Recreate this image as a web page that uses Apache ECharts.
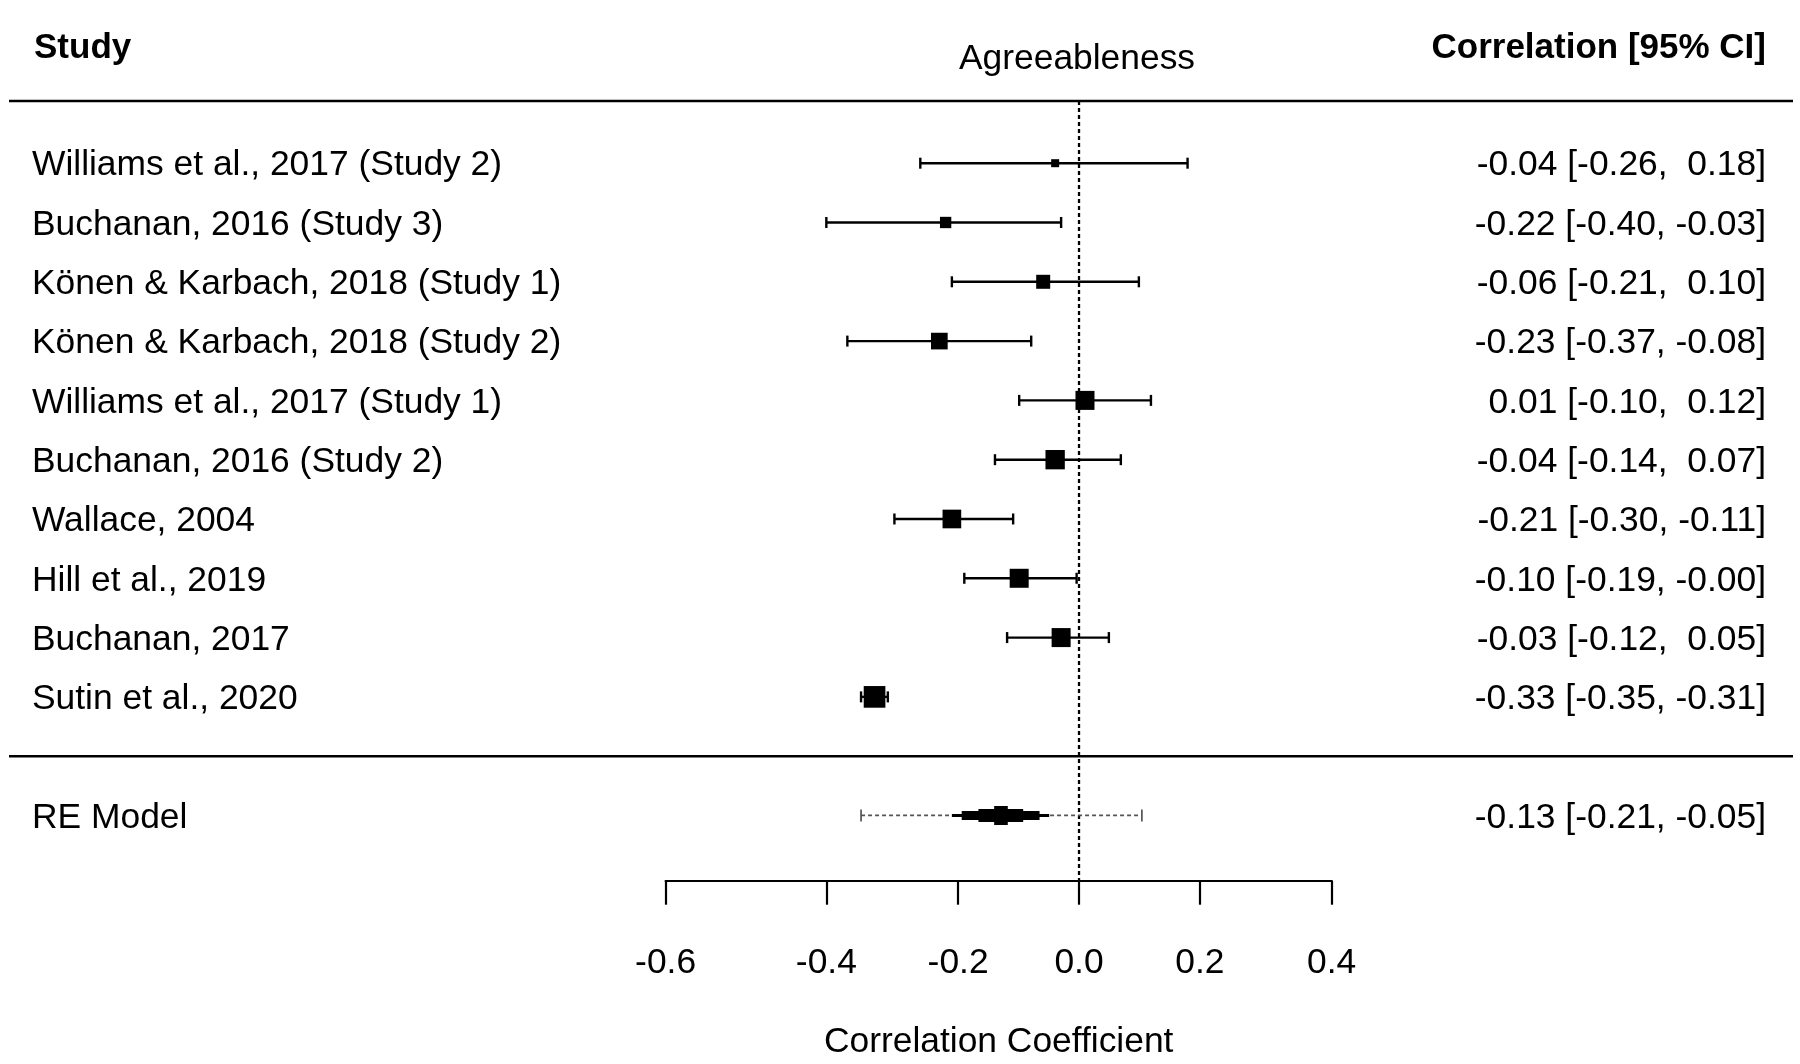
<!DOCTYPE html>
<html><head><meta charset="utf-8">
<script src="https://cdn.jsdelivr.net/npm/echarts@6/dist/echarts.min.js"></script>
<style>html,body{margin:0;padding:0;background:#fff}#c{width:1800px;height:1064px}</style>
</head><body><div id="c"></div>
<script>
// ---- data ----
const studies = [
  'Williams et al., 2017 (Study 2)',
  'Buchanan, 2016 (Study 3)',
  'Könen & Karbach, 2018 (Study 1)',
  'Könen & Karbach, 2018 (Study 2)',
  'Williams et al., 2017 (Study 1)',
  'Buchanan, 2016 (Study 2)',
  'Wallace, 2004',
  'Hill et al., 2019',
  'Buchanan, 2017',
  'Sutin et al., 2020'
];
const estimates = [-0.04, -0.22, -0.06, -0.23, 0.01, -0.04, -0.21, -0.10, -0.03, -0.33];
const ciLower   = [-0.26, -0.40, -0.21, -0.37, -0.10, -0.14, -0.30, -0.19, -0.12, -0.35];
const ciUpper   = [0.18, -0.03, 0.10, -0.08, 0.12, 0.07, -0.11, -0.004, 0.05, -0.31];
const weights   = [4.8, 6.8, 8.4, 10.0, 11.4, 11.6, 11.2, 11.4, 11.4, 13.0];
const reLabel = 'RE Model';
const reEstimate = [-0.13, -0.21, -0.05];   // estimate, lower, upper
const rePrediction = [-0.35, 0.105];         // prediction interval
const tickLabels = [-0.6, -0.4, -0.2, 0.0, 0.2, 0.4];
const panelTitle = 'Agreeableness';
const axisTitle = 'Correlation Coefficient';

// ---- helpers ----
const FONT = '"Liberation Sans", Arial, Helvetica, sans-serif';
const FS = 35.4;
const FSH = 35;
const TY = 2.5; // text vertical nudge
const z = r => Math.atanh(r);
const fmt = v => (v < 0 || Object.is(v, -0)) ? '-' + Math.abs(v).toFixed(2) : ' ' + v.toFixed(2);
const ciText = (e, l, h) => fmt(e) + ' [' + fmt(l) + ', ' + fmt(h) + ']';
const LEFT_X = 32, RIGHT_X = 1766, RULE_L = 9, RULE_R = 1793;

const chart = echarts.init(document.getElementById('c'), null, {renderer: 'canvas'});

const studyData = studies.map((s, i) => [z(estimates[i]), z(ciLower[i]), z(ciUpper[i]), i + 1, weights[i]]);

const option = {
  backgroundColor: '#fff',
  animation: false,
  grid: {left: 665.6, right: 468.3, top: 103.9, bottom: 183.3, outerBoundsMode: 'none', containLabel: false},
  xAxis: {
    type: 'value', min: z(tickLabels[0]), max: z(tickLabels[tickLabels.length - 1]),
    axisLine: {show: true, onZero: false, lineStyle: {color: '#000', width: 2.2}},
    axisTick: {show: true, customValues: tickLabels.map(z), length: 24, lineStyle: {color: '#000', width: 2.2}},
    axisLabel: {show: true, customValues: tickLabels.map(z), formatter: v => Math.tanh(v).toFixed(1),
      margin: 65, fontSize: FS, color: '#000', fontFamily: FONT},
    splitLine: {show: false},
    name: axisTitle, nameLocation: 'middle', nameGap: 144,
    nameTextStyle: {fontSize: FS, color: '#000', fontFamily: FONT}
  },
  yAxis: {type: 'value', inverse: true, min: 0, max: 13.1, show: false},
  graphic: [
    {type: 'text', x: LEFT_X + 2, y: 46 + TY, style: {text: 'Study', font: 'bold ' + FSH + 'px ' + FONT, fill: '#000', align: 'left', verticalAlign: 'middle'}},
    {type: 'text', x: 1077, y: 57 + TY, style: {text: panelTitle, font: FS + 'px ' + FONT, fill: '#000', align: 'center', verticalAlign: 'middle'}},
    {type: 'text', x: RIGHT_X, y: 46 + TY, style: {text: 'Correlation [95% CI]', font: 'bold ' + FSH + 'px ' + FONT, fill: '#000', align: 'right', verticalAlign: 'middle'}}
  ],
  series: [
    { // horizontal rules
      type: 'custom', silent: true,
      data: [[0, -0.05], [0, 11]],
      encode: {x: 0, y: 1},
      renderItem: (p, api) => {
        const y = api.coord([0, api.value(1)])[1];
        return {type: 'line', shape: {x1: RULE_L, y1: y, x2: RULE_R, y2: y}, style: {stroke: '#000', lineWidth: 2.5}};
      }
    },
    { // reference line at 0
      type: 'custom', silent: true,
      data: [[0, -0.05, 13.1]],
      encode: {x: 0, y: [1, 2]},
      renderItem: (p, api) => {
        const a = api.coord([api.value(0), api.value(1)]);
        const b = api.coord([api.value(0), api.value(2)]);
        return {type: 'line', shape: {x1: a[0], y1: a[1], x2: b[0], y2: b[1]}, style: {stroke: '#000', lineWidth: 2.3, lineDash: [4, 3]}};
      }
    },
    { // studies
      type: 'custom', silent: true,
      data: studyData,
      encode: {x: [0, 1, 2], y: 3},
      renderItem: (p, api) => {
        const i = p.dataIndex;
        const row = api.value(3);
        const c = api.coord([api.value(0), row]);
        const l = api.coord([api.value(1), row]);
        const h = api.coord([api.value(2), row]);
        const sz = api.value(4) * 1.667;
        const cap = 5.5, lw = 2.4;
        return {type: 'group', children: [
          {type: 'line', shape: {x1: l[0], y1: c[1], x2: h[0], y2: c[1]}, style: {stroke: '#000', lineWidth: lw}},
          {type: 'line', shape: {x1: l[0], y1: c[1] - cap, x2: l[0], y2: c[1] + cap}, style: {stroke: '#000', lineWidth: lw}},
          {type: 'line', shape: {x1: h[0], y1: c[1] - cap, x2: h[0], y2: c[1] + cap}, style: {stroke: '#000', lineWidth: lw}},
          {type: 'rect', shape: {x: c[0] - sz / 2, y: c[1] - sz / 2, width: sz, height: sz}, style: {fill: '#000'}},
          {type: 'text', x: LEFT_X, y: c[1] + TY, style: {text: studies[i], font: FS + 'px ' + FONT, fill: '#000', align: 'left', verticalAlign: 'middle'}},
          {type: 'text', x: RIGHT_X, y: c[1] + TY, style: {text: ciText(estimates[i], ciLower[i], ciUpper[i]), font: FS + 'px ' + FONT, fill: '#000', align: 'right', verticalAlign: 'middle'}}
        ]};
      }
    },
    { // RE model
      type: 'custom', silent: true,
      data: [[z(reEstimate[0]), z(reEstimate[1]), z(reEstimate[2]), z(rePrediction[0]), z(rePrediction[1]), 12]],
      encode: {x: [0, 1, 2, 3, 4], y: 5},
      renderItem: (p, api) => {
        const row = api.value(5);
        const c = api.coord([api.value(0), row]);
        const l = api.coord([api.value(1), row]);
        const h = api.coord([api.value(2), row]);
        const pl = api.coord([api.value(3), row]);
        const ph = api.coord([api.value(4), row]);
        const cap = 6, y = c[1];
        // stepped diamond (as rendered in the reference)
        const steps = [[0.14, 9.5], [0.46, 6.5], [0.8, 4.5], [1.0, 1.5]];
        const wl = c[0] - l[0], wr = h[0] - c[0];
        const pts = [];
        for (let k = steps.length - 1; k >= 0; k--) {
          const fx = steps[k][0], hh = steps[k][1];
          pts.push([c[0] - fx * wl, y - hh]);
          pts.push([c[0] - (k > 0 ? steps[k - 1][0] : 0) * wl, y - hh]);
        }
        for (let k = 0; k < steps.length; k++) {
          const fx = steps[k][0], hh = steps[k][1];
          pts.push([c[0] + (k > 0 ? steps[k - 1][0] : 0) * wr, y - hh]);
          pts.push([c[0] + fx * wr, y - hh]);
        }
        for (let k = steps.length - 1; k >= 0; k--) {
          const fx = steps[k][0], hh = steps[k][1];
          pts.push([c[0] + fx * wr, y + hh]);
          pts.push([c[0] + (k > 0 ? steps[k - 1][0] : 0) * wr, y + hh]);
        }
        for (let k = 0; k < steps.length; k++) {
          const fx = steps[k][0], hh = steps[k][1];
          pts.push([c[0] - (k > 0 ? steps[k - 1][0] : 0) * wl, y + hh]);
          pts.push([c[0] - fx * wl, y + hh]);
        }
        return {type: 'group', children: [
          {type: 'line', shape: {x1: pl[0], y1: y, x2: ph[0], y2: y}, style: {stroke: '#555', lineWidth: 1.7, lineDash: [4, 3]}},
          {type: 'line', shape: {x1: pl[0], y1: y - cap, x2: pl[0], y2: y + cap}, style: {stroke: '#555', lineWidth: 1.7}},
          {type: 'line', shape: {x1: ph[0], y1: y - cap, x2: ph[0], y2: y + cap}, style: {stroke: '#555', lineWidth: 1.7}},
          {type: 'polygon', shape: {points: pts}, style: {fill: '#000'}},
          {type: 'text', x: LEFT_X, y: y + TY, style: {text: reLabel, font: FS + 'px ' + FONT, fill: '#000', align: 'left', verticalAlign: 'middle'}},
          {type: 'text', x: RIGHT_X, y: y + TY, style: {text: ciText(reEstimate[0], reEstimate[1], reEstimate[2]), font: FS + 'px ' + FONT, fill: '#000', align: 'right', verticalAlign: 'middle'}}
        ]};
      }
    }
  ]
};
chart.setOption(option);
</script>
</body></html>
